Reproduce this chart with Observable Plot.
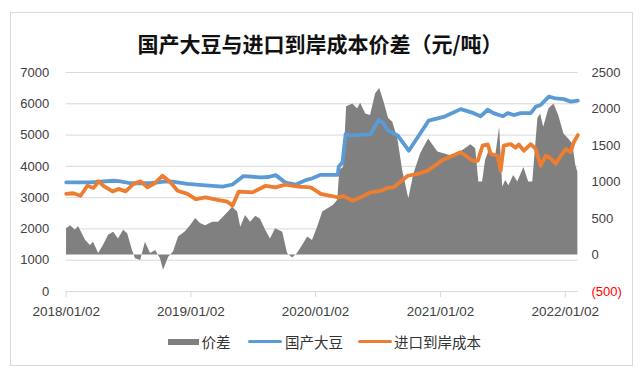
<!DOCTYPE html>
<html>
<head>
<meta charset="utf-8">
<script src="https://cdn.jsdelivr.net/npm/d3@7"></script>
<script src="https://cdn.jsdelivr.net/npm/@observablehq/plot@0.6"></script>
<style>
  html, body { margin: 0; padding: 0; background: #fff; }
  #wrap { position: relative; width: 640px; height: 373px; overflow: hidden; background: #fff; }
  #frame { position: absolute; left: 10px; top: 12px; width: 621px; height: 352px; border: 1px solid #d9d9d9; }
  #title { position: absolute; left: 0; top: 29px; width: 640px; text-align: center;
           font-family: "Noto Sans CJK SC", sans-serif; font-size: 21px; line-height: 28px; color: #111; font-weight: 600; }
  #chart { position: absolute; left: 0; top: 0; }
  .lg { position: absolute; font-family: "Noto Sans CJK SC", sans-serif; font-size: 14.5px; line-height: 16px; color: #333; top: 333.5px; }
  .sw { position: absolute; }
</style>
</head>
<body>
<div id="wrap">
  <div id="frame"></div>
  <div id="chart"></div>
  <div id="title">国产大豆与进口到岸成本价差（元/吨）</div>
  <div id="legend"></div>
</div>
<script>
// ---- data ----
const seriesNames = ["价差", "国产大豆", "进口到岸成本"];
const seriesColors = ["#808080", "#5B9BD5", "#ED7D31"];

const domesticDates = ["2018-01-02","2018-03-14","2018-05-21","2018-06-10","2018-07-09","2018-09-06","2018-10-20","2018-11-09","2018-12-23","2019-02-14","2019-04-05","2019-05-04","2019-06-05","2019-07-25","2019-08-18","2019-09-07","2019-10-06","2019-11-05","2019-12-04","2019-12-24","2020-01-17","2020-03-07","2020-03-10","2020-03-21","2020-03-30","2020-04-14","2020-06-11","2020-07-05","2020-07-17","2020-07-31","2020-08-30","2020-10-01","2020-11-28","2021-01-11","2021-03-02","2021-04-09","2021-04-29","2021-05-20","2021-06-06","2021-07-03","2021-07-18","2021-08-04","2021-08-25","2021-09-23","2021-10-08","2021-10-22","2021-11-15","2021-12-05","2021-12-29","2022-01-18","2022-02-08"];
const domesticPrice = [3490,3490,3540,3520,3460,3460,3520,3510,3440,3390,3350,3420,3690,3650,3660,3720,3480,3415,3560,3620,3730,3730,3990,4130,5030,4980,5030,5480,5400,5160,4980,4500,5460,5580,5830,5700,5600,5810,5700,5600,5700,5640,5700,5700,5910,5960,6230,6170,6150,6070,6100];

const importDates = ["2018-01-02","2018-01-23","2018-02-13","2018-03-05","2018-03-23","2018-04-07","2018-04-21","2018-05-18","2018-06-04","2018-06-25","2018-07-18","2018-08-08","2018-08-28","2018-09-18","2018-10-11","2018-11-03","2018-11-24","2018-12-23","2019-01-16","2019-02-14","2019-03-21","2019-04-19","2019-05-04","2019-05-22","2019-07-02","2019-08-09","2019-09-07","2019-10-06","2019-11-13","2019-12-19","2020-01-11","2020-01-17","2020-02-15","2020-03-07","2020-03-24","2020-04-20","2020-05-13","2020-06-11","2020-07-11","2020-07-31","2020-08-18","2020-09-28","2020-10-27","2020-11-25","2021-01-08","2021-03-02","2021-04-06","2021-04-21","2021-05-05","2021-05-20","2021-05-29","2021-06-18","2021-06-27","2021-07-06","2021-07-26","2021-08-10","2021-08-19","2021-09-03","2021-09-23","2021-10-08","2021-10-22","2021-11-06","2021-11-21","2021-12-05","2021-12-20","2022-01-04","2022-01-18","2022-01-27","2022-02-08"];
const importCost = [3120,3140,3060,3380,3310,3520,3380,3200,3280,3200,3440,3520,3330,3460,3700,3490,3220,3120,2950,3010,2930,2870,2745,3190,3170,3380,3330,3415,3350,3330,3170,3120,3060,3010,3050,2900,3010,3170,3220,3310,3330,3700,3760,3860,4200,4450,4180,4180,4660,4700,4400,4340,3860,4660,4710,4600,4700,4500,4710,4550,4020,4340,4250,4080,4340,4550,4450,4770,5000];

const spreadDates = ["2018-01-03","2018-01-15","2018-01-29","2018-02-07","2018-02-28","2018-03-14","2018-03-23","2018-04-07","2018-04-21","2018-05-06","2018-05-21","2018-06-04","2018-06-19","2018-07-01","2018-07-15","2018-07-24","2018-08-08","2018-08-22","2018-09-06","2018-09-21","2018-10-05","2018-10-14","2018-10-29","2018-11-12","2018-11-27","2018-12-17","2019-01-01","2019-01-16","2019-01-30","2019-02-14","2019-03-07","2019-03-24","2019-04-08","2019-04-22","2019-05-04","2019-05-19","2019-05-28","2019-06-11","2019-06-26","2019-07-11","2019-07-25","2019-08-09","2019-08-23","2019-09-07","2019-09-28","2019-10-12","2019-10-27","2019-11-10","2019-11-25","2019-12-10","2019-12-24","2020-01-08","2020-01-23","2020-02-06","2020-02-24","2020-03-07","2020-03-13","2020-03-24","2020-04-02","2020-04-20","2020-05-04","2020-05-13","2020-05-28","2020-06-11","2020-06-26","2020-07-08","2020-07-19","2020-08-03","2020-08-15","2020-08-30","2020-09-13","2020-10-01","2020-10-16","2020-11-05","2020-11-28","2020-12-25","2021-02-01","2021-03-02","2021-04-01","2021-04-15","2021-04-24","2021-05-05","2021-05-14","2021-05-23","2021-06-12","2021-06-24","2021-07-03","2021-07-12","2021-07-21","2021-08-04","2021-08-16","2021-09-03","2021-09-17","2021-09-29","2021-10-14","2021-10-22","2021-10-31","2021-11-15","2021-11-30","2021-12-14","2021-12-29","2022-01-12","2022-01-24","2022-02-02","2022-02-08"];
const spread = [360,400,340,390,200,130,175,20,130,270,310,220,340,290,60,-50,-75,175,20,60,-50,-210,-30,40,245,320,400,500,430,400,450,450,520,590,655,590,380,540,450,530,490,340,220,360,310,20,-40,20,130,245,200,380,590,630,680,750,1160,1200,2030,2070,2000,2080,1930,1910,2210,2280,2120,1870,1820,1590,1160,770,1110,1390,1590,1410,1360,1410,1510,1455,1000,1000,1300,1410,1340,1750,930,1020,950,1090,1000,1200,1000,1000,1870,1930,1750,2000,2070,1910,1660,1590,1520,1230,1130];

const leftTicks = [0, 1000, 2000, 3000, 4000, 5000, 6000, 7000];
const rightTicks = [-500, 0, 500, 1000, 1500, 2000, 2500];
const xTicks = ["2018-01-02", "2019-01-02", "2020-01-02", "2021-01-02", "2022-01-02"];
const xDomain = ["2018-01-02", "2022-02-09"];

// ---- build tables ----
const parse = d3.utcParse("%Y-%m-%d");
const domestic = domesticDates.map((d, i) => ({date: parse(d), value: domesticPrice[i]}));
const imported = importDates.map((d, i) => ({date: parse(d), value: importCost[i]}));
const spreadData = spreadDates.map((d, i) => ({date: parse(d), value: spread[i]}));

// secondary (right) axis: [-500, 2500] shares the frame with the left [0, 7000]
const leftMax = leftTicks[leftTicks.length - 1];
const rMin = rightTicks[0], rMax = rightTicks[rightTicks.length - 1];
const toLeft = r => (r - rMin) * leftMax / (rMax - rMin);

const fmtRight = v => v < 0 ? `(${Math.abs(v)})` : `${v}`;
const labelFont = "'Liberation Sans', Arial, sans-serif";

const chart = Plot.plot({
  width: 640,
  height: 373,
  marginLeft: 65.7,
  marginRight: 62.3,
  marginTop: 72,
  marginBottom: 82,
  style: {fontFamily: labelFont, background: "transparent", overflow: "visible"},
  x: {type: "utc", domain: xDomain.map(parse)},
  y: {domain: [0, leftMax]},
  marks: [
    Plot.gridY(leftTicks.slice(1), {stroke: "#d9d9d9", strokeOpacity: 1}),
    Plot.areaY(spreadData, {x: "date", y1: toLeft(0), y2: d => toLeft(d.value), fill: seriesColors[0], curve: "linear"}),
    Plot.ruleY([0], {stroke: "#d9d9d9"}),
    Plot.axisY(leftTicks, {anchor: "left", tickSize: 0, tickPadding: 17, fontSize: 13, fill: "#404040", label: null, tickFormat: d => `${d}`}),
    Plot.axisX(xTicks.map(parse), {anchor: "bottom", tickSize: 6, tickPadding: 9, fontSize: 13.5, stroke: "#d9d9d9", fill: "#404040", label: null, tickFormat: d3.utcFormat("%Y/%m/%d")}),
    Plot.text(rightTicks, {y: d => toLeft(d), frameAnchor: "right", dx: 13.3, textAnchor: "start", fontSize: 13, text: fmtRight, fill: d => d < 0 ? "#ff0000" : "#404040"}),
    Plot.line(domestic, {x: "date", y: "value", stroke: seriesColors[1], strokeWidth: 3.8, strokeLinejoin: "round", strokeLinecap: "round"}),
    Plot.line(imported, {x: "date", y: "value", stroke: seriesColors[2], strokeWidth: 3.8, strokeLinejoin: "round", strokeLinecap: "round"})
  ]
});
document.getElementById("chart").appendChild(chart);

// ---- legend ----
const legend = document.getElementById("legend");
const items = [
  {sw: {left: 168, top: 338.5, width: 31, height: 6.5, radius: 0}, textLeft: 201.5},
  {sw: {left: 248, top: 339.8, width: 34, height: 3.6, radius: 2}, textLeft: 285},
  {sw: {left: 358, top: 339.8, width: 34, height: 3.6, radius: 2}, textLeft: 394}
];
items.forEach((it, i) => {
  const s = document.createElement("div");
  s.className = "sw";
  Object.assign(s.style, {left: it.sw.left + "px", top: it.sw.top + "px", width: it.sw.width + "px",
    height: it.sw.height + "px", background: seriesColors[i], borderRadius: it.sw.radius + "px"});
  legend.appendChild(s);
  const t = document.createElement("div");
  t.className = "lg";
  t.style.left = it.textLeft + "px";
  t.textContent = seriesNames[i];
  legend.appendChild(t);
});
</script>
</body>
</html>
